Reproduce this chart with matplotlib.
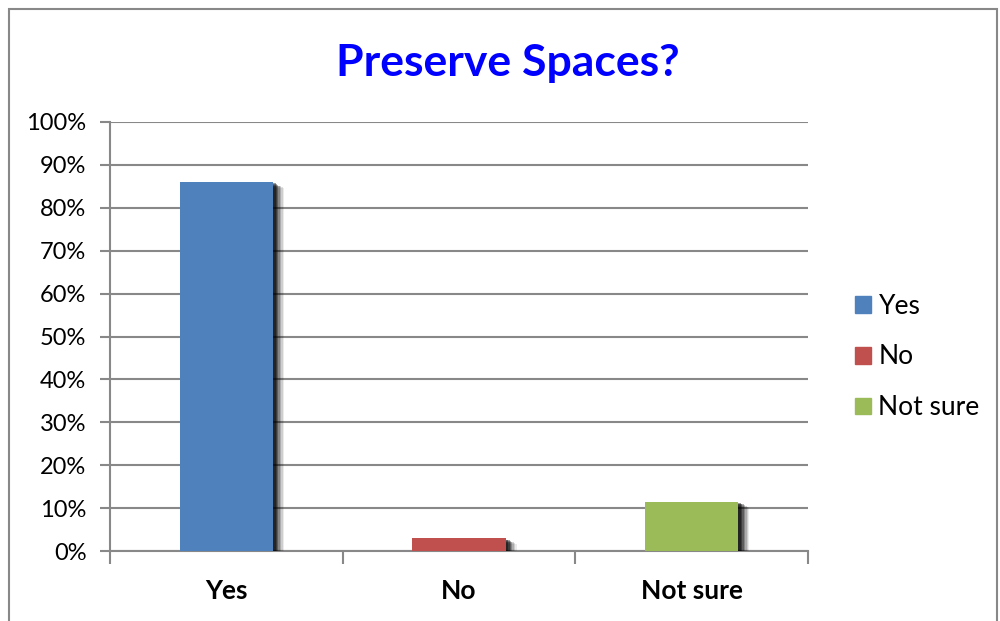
import matplotlib
matplotlib.use("Agg")
import matplotlib.pyplot as plt
import matplotlib.patheffects as pe
from matplotlib.patches import Rectangle
from matplotlib.ticker import FuncFormatter, MultipleLocator

categories = ["Yes", "No", "Not sure"]
values = [86, 3, 11.5]
colors = ["#4F81BD", "#C0504D", "#9BBB59"]
title = "Preserve Spaces?"

plt.rcParams['font.family'] = ['Lato', 'DejaVu Sans']

W, H = 1000, 621
fig = plt.figure(figsize=(W/100, H/100), dpi=100)
fig.patches.append(Rectangle((9/W, -0.01), (997-9)/W, 1 - 9/H + 0.01,
                             transform=fig.transFigure, fill=False,
                             edgecolor="#888888", linewidth=1.5))

ax = fig.add_axes([110/W, 1 - 551/H, (808-110)/W, (551-122)/H])
x = list(range(len(categories)))
bars = ax.bar(x, values, width=0.4, color=colors, zorder=3)
shadow = []
for off, a in [(8, 0.08), (7, 0.12), (6, 0.16), (5, 0.22), (4, 0.3), (3, 0.35), (2, 0.4)]:
    shadow.append(pe.SimplePatchShadow(offset=(off, -off * 0.5), shadow_rgbFace="#000000", alpha=a))
for b in bars:
    b.set_path_effects(shadow + [pe.Normal()])

ax.set_xlim(-0.5, 2.5)
ax.set_ylim(0, 100)
ax.yaxis.set_major_locator(MultipleLocator(10))
ax.yaxis.set_major_formatter(FuncFormatter(lambda v, p: f"{int(v)}%"))
ax.grid(axis='y', color="#888888", linewidth=1.5, zorder=0)
ax.set_axisbelow(True)
for s in ["top", "right"]:
    ax.spines[s].set_visible(False)
for s in ["left", "bottom"]:
    ax.spines[s].set_color("#888888")
    ax.spines[s].set_linewidth(1.5)

ax.set_xticks(x)
ax.set_xticklabels(categories, fontsize=19, fontweight='bold')
ax.tick_params(axis='x', length=0, pad=20)
ax.set_xticks([-0.5, 0.5, 1.5, 2.5], minor=True)
ax.tick_params(axis='x', which='minor', length=9, width=1.5, color="#888888")
ax.tick_params(axis='y', length=7, width=1.5, color="#888888", labelsize=17, pad=10)

fig.text(508/W, 1 - 63/H, title, ha='center', va='center', fontsize=32,
         fontweight='bold', color="#0000FF")

handles = [Rectangle((0, 0), 1, 1, color=c) for c in colors]
leg = fig.legend(handles, categories, loc='center left', bbox_to_anchor=(831/W, 1 - 357/H),
                 frameon=False, fontsize=19, handlelength=0.6, handleheight=0.6,
                 labelspacing=0.98, handletextpad=0.3)

fig.savefig("out.png", dpi=100)
